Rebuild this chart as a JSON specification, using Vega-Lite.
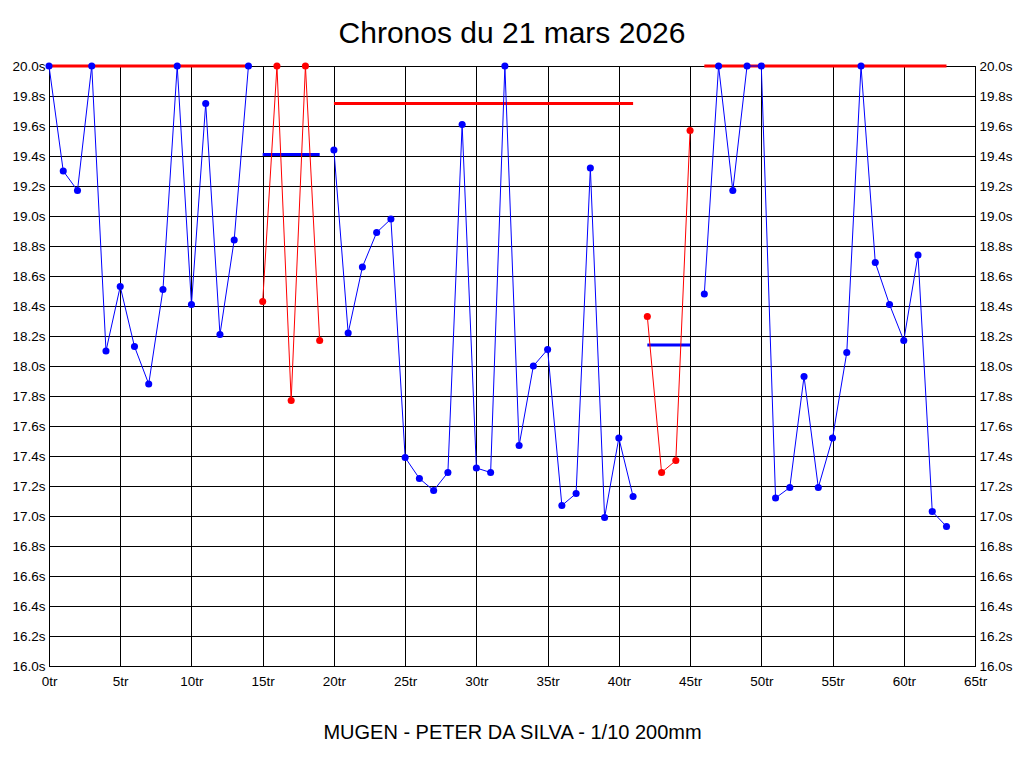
{
  "$schema": "https://vega.github.io/schema/vega-lite/v6.json",
  "autosize": {"type": "none"},
  "padding": {"left": 49, "top": 66, "right": 49, "bottom": 102},
  "width": 926,
  "height": 600,
  "background": "white",
  "title": {
    "text": "Chronos du 21 mars 2026",
    "font": "Liberation Sans",
    "fontSize": 30,
    "fontWeight": "normal",
    "color": "black",
    "anchor": "middle",
    "baseline": "alphabetic",
    "offset": -14
  },
  "datasets": {
    "tours": [
      {"tour": 0, "temps": 20.0, "relais": 1, "groupe": "A"},
      {"tour": 1, "temps": 19.30, "relais": 1, "groupe": "A"},
      {"tour": 2, "temps": 19.17, "relais": 1, "groupe": "A"},
      {"tour": 3, "temps": 20.0, "relais": 1, "groupe": "A"},
      {"tour": 4, "temps": 18.10, "relais": 1, "groupe": "A"},
      {"tour": 5, "temps": 18.53, "relais": 1, "groupe": "A"},
      {"tour": 6, "temps": 18.13, "relais": 1, "groupe": "A"},
      {"tour": 7, "temps": 17.88, "relais": 1, "groupe": "A"},
      {"tour": 8, "temps": 18.51, "relais": 1, "groupe": "A"},
      {"tour": 9, "temps": 20.0, "relais": 1, "groupe": "A"},
      {"tour": 10, "temps": 18.41, "relais": 1, "groupe": "A"},
      {"tour": 11, "temps": 19.75, "relais": 1, "groupe": "A"},
      {"tour": 12, "temps": 18.21, "relais": 1, "groupe": "A"},
      {"tour": 13, "temps": 18.84, "relais": 1, "groupe": "A"},
      {"tour": 14, "temps": 20.0, "relais": 1, "groupe": "A"},
      {"tour": 15, "temps": 18.43, "relais": 2, "groupe": "B"},
      {"tour": 16, "temps": 20.0, "relais": 2, "groupe": "B"},
      {"tour": 17, "temps": 17.77, "relais": 2, "groupe": "B"},
      {"tour": 18, "temps": 20.0, "relais": 2, "groupe": "B"},
      {"tour": 19, "temps": 18.17, "relais": 2, "groupe": "B"},
      {"tour": 20, "temps": 19.44, "relais": 3, "groupe": "A"},
      {"tour": 21, "temps": 18.22, "relais": 3, "groupe": "A"},
      {"tour": 22, "temps": 18.66, "relais": 3, "groupe": "A"},
      {"tour": 23, "temps": 18.89, "relais": 3, "groupe": "A"},
      {"tour": 24, "temps": 18.98, "relais": 3, "groupe": "A"},
      {"tour": 25, "temps": 17.39, "relais": 3, "groupe": "A"},
      {"tour": 26, "temps": 17.25, "relais": 3, "groupe": "A"},
      {"tour": 27, "temps": 17.17, "relais": 3, "groupe": "A"},
      {"tour": 28, "temps": 17.29, "relais": 3, "groupe": "A"},
      {"tour": 29, "temps": 19.61, "relais": 3, "groupe": "A"},
      {"tour": 30, "temps": 17.32, "relais": 3, "groupe": "A"},
      {"tour": 31, "temps": 17.29, "relais": 3, "groupe": "A"},
      {"tour": 32, "temps": 20.0, "relais": 3, "groupe": "A"},
      {"tour": 33, "temps": 17.47, "relais": 3, "groupe": "A"},
      {"tour": 34, "temps": 18.00, "relais": 3, "groupe": "A"},
      {"tour": 35, "temps": 18.11, "relais": 3, "groupe": "A"},
      {"tour": 36, "temps": 17.07, "relais": 3, "groupe": "A"},
      {"tour": 37, "temps": 17.15, "relais": 3, "groupe": "A"},
      {"tour": 38, "temps": 19.32, "relais": 3, "groupe": "A"},
      {"tour": 39, "temps": 16.99, "relais": 3, "groupe": "A"},
      {"tour": 40, "temps": 17.52, "relais": 3, "groupe": "A"},
      {"tour": 41, "temps": 17.13, "relais": 3, "groupe": "A"},
      {"tour": 42, "temps": 18.33, "relais": 4, "groupe": "B"},
      {"tour": 43, "temps": 17.29, "relais": 4, "groupe": "B"},
      {"tour": 44, "temps": 17.37, "relais": 4, "groupe": "B"},
      {"tour": 45, "temps": 19.57, "relais": 4, "groupe": "B"},
      {"tour": 46, "temps": 18.48, "relais": 5, "groupe": "A"},
      {"tour": 47, "temps": 20.0, "relais": 5, "groupe": "A"},
      {"tour": 48, "temps": 19.17, "relais": 5, "groupe": "A"},
      {"tour": 49, "temps": 20.0, "relais": 5, "groupe": "A"},
      {"tour": 50, "temps": 20.0, "relais": 5, "groupe": "A"},
      {"tour": 51, "temps": 17.12, "relais": 5, "groupe": "A"},
      {"tour": 52, "temps": 17.19, "relais": 5, "groupe": "A"},
      {"tour": 53, "temps": 17.93, "relais": 5, "groupe": "A"},
      {"tour": 54, "temps": 17.19, "relais": 5, "groupe": "A"},
      {"tour": 55, "temps": 17.52, "relais": 5, "groupe": "A"},
      {"tour": 56, "temps": 18.09, "relais": 5, "groupe": "A"},
      {"tour": 57, "temps": 20.0, "relais": 5, "groupe": "A"},
      {"tour": 58, "temps": 18.69, "relais": 5, "groupe": "A"},
      {"tour": 59, "temps": 18.41, "relais": 5, "groupe": "A"},
      {"tour": 60, "temps": 18.17, "relais": 5, "groupe": "A"},
      {"tour": 61, "temps": 18.74, "relais": 5, "groupe": "A"},
      {"tour": 62, "temps": 17.03, "relais": 5, "groupe": "A"},
      {"tour": 63, "temps": 16.93, "relais": 5, "groupe": "A"}
    ],
    "moyennes": [
      {"relais": 1, "tour": 0, "tour_fin": 14, "temps": 20.0, "groupe": "B"},
      {"relais": 2, "tour": 15, "tour_fin": 19, "temps": 19.41, "groupe": "A"},
      {"relais": 3, "tour": 20, "tour_fin": 41, "temps": 19.75, "groupe": "B"},
      {"relais": 4, "tour": 42, "tour_fin": 45, "temps": 18.14, "groupe": "A"},
      {"relais": 5, "tour": 46, "tour_fin": 63, "temps": 20.0, "groupe": "B"}
    ]
  },
  "resolve": {"axis": {"y": "independent"}},
  "layer": [
    {
      "data": {"name": "moyennes"},
      "mark": {"type": "rule", "strokeWidth": 3},
      "encoding": {
        "x": {
          "field": "tour",
          "type": "quantitative",
          "title": "MUGEN - PETER DA SILVA - 1/10 200mm",
          "scale": {"domain": [0, 65], "nice": false, "zero": false},
          "axis": {
            "values": [0, 5, 10, 15, 20, 25, 30, 35, 40, 45, 50, 55, 60, 65],
            "labelExpr": "datum.value + 'tr'",
            "grid": true,
            "titlePadding": 35
          }
        },
        "x2": {"field": "tour_fin"},
        "y": {
          "field": "temps",
          "type": "quantitative",
          "title": null,
          "scale": {"domain": [16, 20], "nice": false, "zero": false},
          "axis": {
            "orient": "left",
            "values": [16, 16.2, 16.4, 16.6, 16.8, 17, 17.2, 17.4, 17.6, 17.8, 18, 18.2, 18.4, 18.6, 18.8, 19, 19.2, 19.4, 19.6, 19.8, 20],
            "labelExpr": "format(datum.value, '.1f') + 's'",
            "grid": true
          }
        },
        "color": {
          "field": "groupe",
          "type": "nominal",
          "scale": {"domain": ["A", "B"], "range": ["#0000ff", "#ff0000"]},
          "legend": null
        }
      }
    },
    {
      "data": {"name": "tours"},
      "mark": {"type": "line", "strokeWidth": 1},
      "encoding": {
        "x": {"field": "tour", "type": "quantitative", "title": "MUGEN - PETER DA SILVA - 1/10 200mm"},
        "y": {"field": "temps", "type": "quantitative", "axis": null},
        "color": {"field": "groupe", "type": "nominal", "legend": null},
        "detail": {"field": "relais", "type": "nominal"}
      }
    },
    {
      "data": {"name": "tours"},
      "mark": {"type": "point", "filled": true, "opacity": 1, "size": 50},
      "encoding": {
        "x": {"field": "tour", "type": "quantitative", "title": "MUGEN - PETER DA SILVA - 1/10 200mm"},
        "y": {
          "field": "temps",
          "type": "quantitative",
          "title": null,
          "axis": {
            "orient": "right",
            "values": [16, 16.2, 16.4, 16.6, 16.8, 17, 17.2, 17.4, 17.6, 17.8, 18, 18.2, 18.4, 18.6, 18.8, 19, 19.2, 19.4, 19.6, 19.8, 20],
            "labelExpr": "format(datum.value, '.1f') + 's'",
            "grid": false
          }
        },
        "color": {"field": "groupe", "type": "nominal", "legend": null}
      }
    }
  ],
  "config": {
    "view": {"stroke": "black", "strokeWidth": 1},
    "axis": {
      "labelFont": "Liberation Sans",
      "labelFontSize": 13.5,
      "labelColor": "black",
      "labelPadding": 4,
      "labelFlush": false,
      "labelOverlap": false,
      "ticks": false,
      "domain": true,
      "domainColor": "black",
      "gridColor": "black",
      "gridOpacity": 1,
      "gridWidth": 1,
      "titleFont": "Liberation Sans",
      "titleFontSize": 20,
      "titleFontWeight": "normal",
      "titleColor": "black"
    },
    "axisX": {"labelPadding": 8}
  }
}
